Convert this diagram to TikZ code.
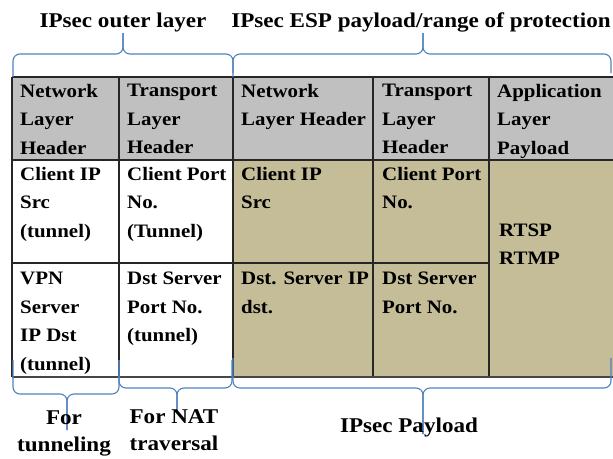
\documentclass[tikz,border=0pt]{standalone}
\usepackage{fontspec}
\setmainfont{Liberation Serif}[FakeStretch=1.1]
\definecolor{hdrgray}{HTML}{C0C0C0}
\definecolor{tan}{HTML}{C4BD97}
\definecolor{gridline}{HTML}{262626}
\definecolor{bracecol}{HTML}{4F81BD}
% curly bracket: ends x1,x2; tip at xm; ends at yend, bar at yh, tip reaches ytip
\newcommand\wbrace[6]{%
  \draw[bracestyle] (#1,#4) -- (#1,#5) -- (#3,#5) -- (#3,#6);
  \draw[bracestyle] (#2,#4) -- (#2,#5) -- (#3,#5) -- (#3,#6);
}
\begin{document}
\begin{tikzpicture}[x=1pt,y=-1pt,
  bracestyle/.style={draw=bracecol,line width=1.1pt,rounded corners=7pt},
  grid/.style={draw=gridline,line width=1.1pt},
  cell/.style={anchor=north west,inner sep=0pt,align=left,
    font=\fontsize{19}{28.5}\selectfont\bfseries},
  label/.style={inner sep=0pt,align=center,
    font=\fontsize{21}{27}\selectfont\bfseries}]
\useasboundingbox (0,0) rectangle (613,458);

% cell backgrounds
\fill[hdrgray] (12,77) rectangle (613,160);
\fill[white] (12,160) rectangle (233,377);
\fill[tan] (233,160) rectangle (613,377);

% grid
\draw[grid] (12,77) -- (613,77);
\draw[grid] (12,160) -- (613,160);
\draw[grid] (12,263) -- (489,263);
\foreach \x in {12,119,233,373,489} \draw[grid] (\x,77) -- (\x,377);
\draw[draw=gridline!85,line width=2.4pt] (12,377) -- (613,377);

% header row
\node[cell] (h1) at (20,84) {Network\\Layer\\Header};
\node[cell] (h2) at (127,84) {Transport\\Layer\\Header};
\node[cell] (h3) at (241,84) {Network\\Layer Header};
\node[cell] (h4) at (382,84) {Transport\\Layer\\Header};
\node[cell] (h5) at (497,84) {Application\\Layer\\Payload};

% source row
\node[cell] (s1) at (20,167) {Client IP\\Src\\(tunnel)};
\node[cell] (s2) at (127,167) {Client Port\\No.\\(Tunnel)};
\node[cell] (s3) at (241,167) {Client IP\\Src};
\node[cell] (s4) at (382,167) {Client Port\\No.};
\node[cell,font=\fontsize{19}{27.5}\selectfont\bfseries] (p5) at (499,224) {RTSP\\RTMP};

% destination row
\node[cell] (d1) at (20,272) {VPN\\Server\\IP Dst\\(tunnel)};
\node[cell] (d2) at (127,272) {Dst Server\\Port No.\\(tunnel)};
\node[cell] (d3) at (241,272) {Dst. Server IP\\dst.};
\node[cell] (d4) at (382,272) {Dst Server\\Port No.};

% titles and braces above
\node[label,anchor=base] (t1) at (123,27) {IPsec outer layer};
\node[label,anchor=base] (t2) at (421,27) {IPsec ESP payload/range of protection};
\wbrace{13}{233}{123}{77}{54}{33}
\wbrace{233}{611}{423}{73}{54}{33}

% braces and labels below
\wbrace{13}{119}{67}{360}{394}{430}
\wbrace{119}{232}{177}{360}{388}{413}
\wbrace{233}{611}{423}{358}{388}{434}
\node[label,anchor=north] (b1) at (64,411) {For\\tunneling};
\node[label,anchor=north] (b2) at (174,409) {For NAT\\traversal};
\node[label,anchor=base] (b3) at (409,432) {IPsec Payload};
\end{tikzpicture}
\end{document}
